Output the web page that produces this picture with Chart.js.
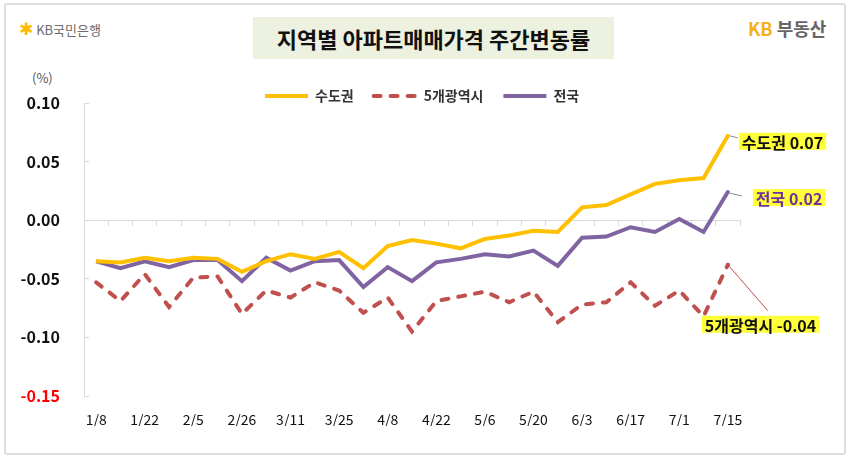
<!DOCTYPE html>
<html>
<head>
<meta charset="utf-8">
<script src="https://cdn.jsdelivr.net/npm/chart.js@4.4.0/dist/chart.umd.min.js"></script>
<style>
  html, body { margin: 0; padding: 0; background: #fff; }
  #wrap { position: relative; width: 850px; height: 459px; overflow: hidden;
          font-family: 'Noto Sans CJK KR', 'Noto Sans', sans-serif; }
  #frame { position: absolute; left: 4px; top: 3px; width: 838px; height: 448px;
           border: 2px solid #dedede; border-radius: 3px; }
  #bank { position: absolute; left: 19px; top: 20px; font-size: 13px; line-height: 18px; color: #6b6b6b; }
  #bank .star { color: #ffb900; font-size: 17px; font-weight: bold; font-family: 'DejaVu Sans', sans-serif; }
  #title { position: absolute; left: 253px; top: 17px; width: 361px; height: 42px; background: #edf1df;
           font-size: 22px; font-weight: bold; color: #111; text-align: center; line-height: 42px; }
  #kb { position: absolute; left: 748px; top: 17px; font-size: 18px; line-height: 22px; font-weight: bold; color: #666; }
  #kb span { color: #f5b11c; }
  #unit { position: absolute; left: 32px; top: 69px; font-size: 13px; line-height: 18px; color: #555; }
  canvas { position: absolute; left: 0; top: 0; }
</style>
</head>
<body>
<div id="wrap">
  <div id="frame"></div>
  <div id="bank"><span class="star">✱</span> KB국민은행</div>
  <div id="title">지역별 아파트매매가격 주간변동률</div>
  <div id="kb"><span>KB</span> 부동산</div>
  <div id="unit">(%)</div>
  <canvas id="chart" width="850" height="459"></canvas>
</div>
<script>
// ==== DATA ====
var dates = ['1/8', '1/15', '1/22', '1/29', '2/5', '2/19', '2/26', '3/4', '3/11', '3/18', '3/25', '4/1', '4/8', '4/15',
  '4/22', '4/29', '5/6', '5/13', '5/20', '5/27', '6/3', '6/10', '6/17', '6/24', '7/1', '7/8', '7/15'];
var sudogwon = [-0.035, -0.036, -0.032, -0.035, -0.032, -0.033, -0.044, -0.035, -0.029, -0.033, -0.027, -0.041, -0.022, -0.017,
  -0.020, -0.024, -0.016, -0.013, -0.009, -0.010, 0.011, 0.013, 0.022, 0.031, 0.034, 0.036, 0.072];
var metro5 = [-0.053, -0.069, -0.046, -0.074, -0.049, -0.048, -0.080, -0.060, -0.066, -0.053, -0.060, -0.079, -0.066, -0.095,
  -0.069, -0.065, -0.061, -0.070, -0.061, -0.087, -0.072, -0.070, -0.053, -0.073, -0.060, -0.082, -0.038];
var nation = [-0.035, -0.041, -0.035, -0.040, -0.034, -0.034, -0.052, -0.032, -0.043, -0.035, -0.034, -0.057, -0.040, -0.052,
  -0.036, -0.033, -0.029, -0.031, -0.026, -0.039, -0.015, -0.014, -0.006, -0.010, 0.001, -0.010, 0.024];
var seriesNames = ['수도권', '5개광역시', '전국'];
var endValues = ['0.07', '-0.04', '0.02'];
var yMin = -0.15, yMax = 0.10, yStep = 0.05;

var FONT = "'Noto Sans CJK KR', 'Noto Sans', sans-serif";
var LEG_PAD = 20;
Chart.defaults.font.family = FONT;

// only the last point gets a small dot
function isLast(c) { return c.dataIndex === dates.length - 1; }
function dotRadius(c) { return isLast(c) ? 2 : 0; }
function dotBorder(c) { return isLast(c) ? 0 : 4; }

// legend lines: same width / dash as the series
function legendItems(chart) {
  var items = Chart.defaults.plugins.legend.labels.generateLabels(chart);
  items.forEach(function (it) {
    var ds = chart.data.datasets[it.datasetIndex];
    it.lineWidth = ds.borderWidth;
    it.lineDash = ds.borderDash || [];
    it.lineCap = ds.borderCapStyle || 'butt';
  });
  return items;
}

// legend sits just above the plot, closer than chart.js allows -> nudge it after layout
var legendNudge = {
  id: 'legendNudge',
  afterLayout: function (chart) {
    var lg = chart.legend;
    if (!lg || !lg.lineWidths) return;
    var dy = 96 - (lg.top + LEG_PAD + 7);
    var startX = (lg.left + LEG_PAD + lg.right - lg.lineWidths[0]) / 2;
    var dx = 265 - startX;
    lg.top += dy; lg.bottom += dy;
    lg.left += dx; lg.right += dx;
  }
};

// highlighted end-of-line labels
var endLabels = {
  id: 'endLabels',
  afterDatasetsDraw: function (chart) {
    var ctx = chart.ctx, xs = chart.scales.x, ys = chart.scales.y;
    var last = dates.length - 1;
    var px = xs.getPixelForValue(last);
    var specs = [
      { ds: 0, color: '#111', lead: '#8c8c8c', l: [2, 0, 10, 2], tx: 14, ty: 6 },
      { ds: 1, color: '#111', lead: '#c0504d', l: [0, 0, 40, 46], tx: -23, ty: 60 },
      { ds: 2, color: '#7030a0', lead: '#8c8c8c', l: [2, 1, 14, 4], tx: 28, ty: 6 }
    ];
    ctx.save();
    ctx.font = 'bold 16px ' + FONT;
    ctx.textBaseline = 'middle';
    ctx.textAlign = 'left';
    specs.forEach(function (s) {
      var py = ys.getPixelForValue(chart.data.datasets[s.ds].data[last]);
      ctx.strokeStyle = s.lead; ctx.lineWidth = 1;
      ctx.beginPath();
      ctx.moveTo(px + s.l[0], py + s.l[1]);
      ctx.lineTo(px + s.l[2], py + s.l[3]);
      ctx.stroke();
      var text = seriesNames[s.ds] + ' ' + endValues[s.ds];
      var w = ctx.measureText(text).width;
      var x = px + s.tx, y = py + s.ty;
      ctx.fillStyle = '#ffff3a';
      ctx.fillRect(x - 3, y - 9, w + 6, 17);
      ctx.fillStyle = s.color;
      ctx.fillText(text, x, y + 1);
    });
    ctx.restore();
  }
};

new Chart(document.getElementById('chart'), {
  type: 'line',
  data: {
    labels: dates,
    datasets: [
      { label: seriesNames[0], data: sudogwon, borderColor: '#ffc000', backgroundColor: '#ffc000',
        borderWidth: 4, pointRadius: dotRadius, pointBorderWidth: dotBorder, tension: 0 },
      { label: seriesNames[1], data: metro5, borderColor: '#c0504d', backgroundColor: '#c0504d',
        borderWidth: 4, borderDash: [7, 10], borderCapStyle: 'round', pointRadius: dotRadius, pointBorderWidth: dotBorder, tension: 0 },
      { label: seriesNames[2], data: nation, borderColor: '#8064a2', backgroundColor: '#8064a2',
        borderWidth: 4, pointRadius: dotRadius, pointBorderWidth: dotBorder, tension: 0 }
    ]
  },
  options: {
    responsive: false,
    animation: false,
    layout: { padding: { top: 59, right: 110, bottom: 33, left: 0 } },
    plugins: {
      legend: {
        position: 'top',
        labels: { usePointStyle: true, pointStyle: 'line', pointStyleWidth: 43, padding: LEG_PAD,
          color: '#333', font: { size: 14, weight: 'bold' }, generateLabels: legendItems }
      },
      tooltip: { enabled: false }
    },
    scales: {
      x: {
        offset: true,
        grid: { display: false },
        border: { display: false },
        ticks: { autoSkip: false, maxRotation: 0, padding: 7, color: '#111', font: { size: 14 },
          callback: function (v, i) { return i % 2 === 0 ? dates[i] : ''; } },
        afterFit: function (s) { s.height = 30; }
      },
      x2: {
        type: 'category', axis: 'x', labels: dates, offset: true, position: { y: 0 },
        grid: { offset: true, drawOnChartArea: false, tickLength: 5, color: '#d9d9d9' },
        border: { display: true, color: '#d9d9d9' },
        ticks: { display: false }
      },
      y: {
        min: yMin, max: yMax,
        ticks: { stepSize: yStep, padding: 29, font: { size: 16, weight: 'bold' },
          color: function (c) { return c.tick.value < yMin + 0.001 ? '#ff0000' : '#111'; },
          callback: function (v) { return Math.abs(v) < 1e-9 ? '0.00' : v.toFixed(2); } },
        grid: { drawOnChartArea: false, drawTicks: true, tickLength: -5, color: '#d9d9d9' },
        border: { display: true, color: '#d9d9d9' },
        afterFit: function (s) { s.width = 84; }
      }
    }
  },
  plugins: [legendNudge, endLabels]
});
</script>
</body>
</html>
